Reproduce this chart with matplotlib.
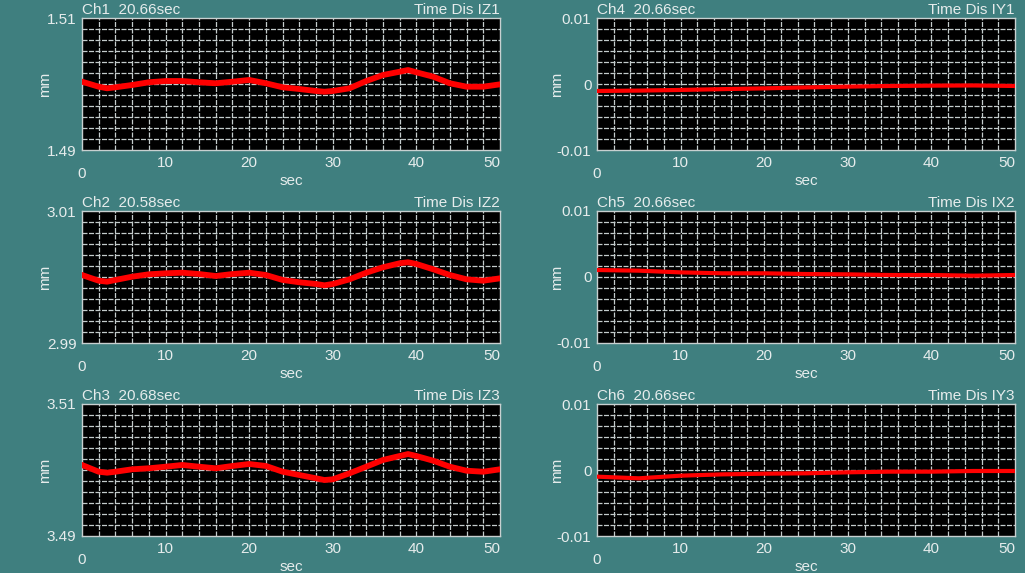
import numpy as np
import matplotlib.pyplot as plt

# channel traces (sec, mm)
t_left = [0, 2, 3, 4, 6, 8, 10, 12, 14, 16, 18, 20, 22, 24, 26, 28, 29, 30,
          32, 34, 36, 38, 39, 40, 42, 44, 46, 48, 50]
ch1 = [1.50035, 1.49959, 1.49935, 1.49950, 1.49985, 1.50026, 1.50045, 1.50045,
       1.50026, 1.50011, 1.50035, 1.50061, 1.50011, 1.49950, 1.49924, 1.49894,
       1.49883, 1.49894, 1.49935, 1.50045, 1.50136, 1.50186, 1.50212, 1.50177,
       1.50111, 1.50011, 1.49959, 1.49959, 1.49995]
ch2 = [3.00030, 2.99944, 2.99929, 2.99955, 3.00005, 3.00041, 3.00056, 3.00065,
       3.00045, 3.00015, 3.00045, 3.00065, 3.00030, 2.99955, 2.99920, 2.99894,
       2.99874, 2.99894, 2.99965, 3.00065, 3.00147, 3.00208, 3.00223, 3.00197,
       3.00117, 3.00030, 2.99965, 2.99944, 2.99980]
ch3 = [3.50076, 3.49974, 3.49959, 3.49974, 3.50011, 3.50026, 3.50050, 3.50076,
       3.50050, 3.50026, 3.50061, 3.50091, 3.50061, 3.49974, 3.49924, 3.49874,
       3.49848, 3.49859, 3.49950, 3.50050, 3.50152, 3.50212, 3.50242, 3.50212,
       3.50141, 3.50050, 3.49989, 3.49974, 3.50011]

t_right = [0, 5, 10, 15, 20, 25, 30, 35, 40, 45, 50]
ch4 = [-0.00106, -0.00100, -0.00090, -0.00078, -0.00066, -0.00052, -0.00040,
       -0.00030, -0.00025, -0.00022, -0.00030]
ch5 = [0.00106, 0.00096, 0.00070, 0.00056, 0.00056, 0.00045, 0.00040,
       0.00030, 0.00030, 0.00020, 0.00030]
ch6 = [-0.00101, -0.00126, -0.00086, -0.00066, -0.00056, -0.00050, -0.00035,
       -0.00025, -0.00025, -0.00015, -0.00015]

titles = ['Ch1  20.66sec', 'Ch2  20.58sec', 'Ch3  20.68sec',
          'Ch4  20.66sec', 'Ch5  20.66sec', 'Ch6  20.66sec']
names = ['Time Dis IZ1', 'Time Dis IZ2', 'Time Dis IZ3',
         'Time Dis IY1', 'Time Dis IX2', 'Time Dis IY3']
centers = [1.50, 3.00, 3.50, 0.0, 0.0, 0.0]
ytick_labels = [['1.49', '1.51'], ['2.99', '3.01'], ['3.49', '3.51'],
                ['-0.01', '0', '0.01'], ['-0.01', '0', '0.01'], ['-0.01', '0', '0.01']]

bg = '#3f7f7f'
fg = '#e6ecec'
fs = 11
plt.rcParams['font.family'] = ['Liberation Sans', 'DejaVu Sans']
plt.rcParams['font.size'] = fs

fig = plt.figure(figsize=(10.25, 5.73), dpi=100, facecolor=bg)

lefts = [82 / 1025, 597 / 1025]
width = 418 / 1025
bottoms = [1 - 150 / 573, 1 - 343 / 573, 1 - 536 / 573]
height = 132 / 573

series = [(t_left, ch1), (t_left, ch2), (t_left, ch3),
          (t_right, ch4), (t_right, ch5), (t_right, ch6)]

for i in range(6):
    col = i // 3
    row = i % 3
    ax = fig.add_axes([lefts[col], bottoms[row], width, height])
    ax.set_facecolor('black')
    c = centers[i]
    ax.set_xlim(0, 50)
    ax.set_ylim(c - 0.01, c + 0.01)

    # grid
    for gx in np.arange(2, 50, 2):
        ax.axvline(gx, color='#c4cccc', lw=0.9, ls=(0, (4, 1.2)), zorder=1)
    for gy in np.linspace(c - 0.01, c + 0.01, 13)[1:-1]:
        ax.axhline(gy, color='#c4cccc', lw=0.9, ls=(0, (4, 1.2)), zorder=1)

    t, y = series[i]
    lw = 4.2 if col == 0 else 3.0
    ax.plot(t, y, color='#ff0000', lw=lw, zorder=3, solid_joinstyle='round')

    for s in ax.spines.values():
        s.set_color('#c8d0d0')
        s.set_linewidth(1.0)

    ax.tick_params(length=0, colors=fg, labelsize=fs, pad=4)
    if col == 0:
        ax.set_yticks([c - 0.01, c + 0.01])
    else:
        ax.set_yticks([c - 0.01, c, c + 0.01])
    ax.set_yticklabels(ytick_labels[i])

    ax.set_xticks([10, 20, 30, 40, 50])
    ax.set_xticklabels(['10', '20', '30', '40', '50'])
    ax.get_xticklabels()[-1].set_horizontalalignment('right')
    ax.annotate('0', xy=(0, 0), xycoords=('data', 'axes fraction'),
                xytext=(0, -12), textcoords='offset points',
                ha='center', va='top', color=fg, fontsize=fs)

    ax.set_xlabel('sec', color=fg, fontsize=fs, labelpad=3)
    mm_x = -37 / 418 if col == 0 else -40 / 418
    ax.text(mm_x, 0.5, 'mm', transform=ax.transAxes, rotation=90,
            ha='center', va='center', color=fg, fontsize=fs)

    ax.text(0, 1.005, titles[i], transform=ax.transAxes, ha='left', va='bottom',
            color=fg, fontsize=fs)
    ax.text(1, 1.005, names[i], transform=ax.transAxes, ha='right', va='bottom',
            color=fg, fontsize=fs)

fig.savefig('out.png', dpi=100, facecolor=bg)
